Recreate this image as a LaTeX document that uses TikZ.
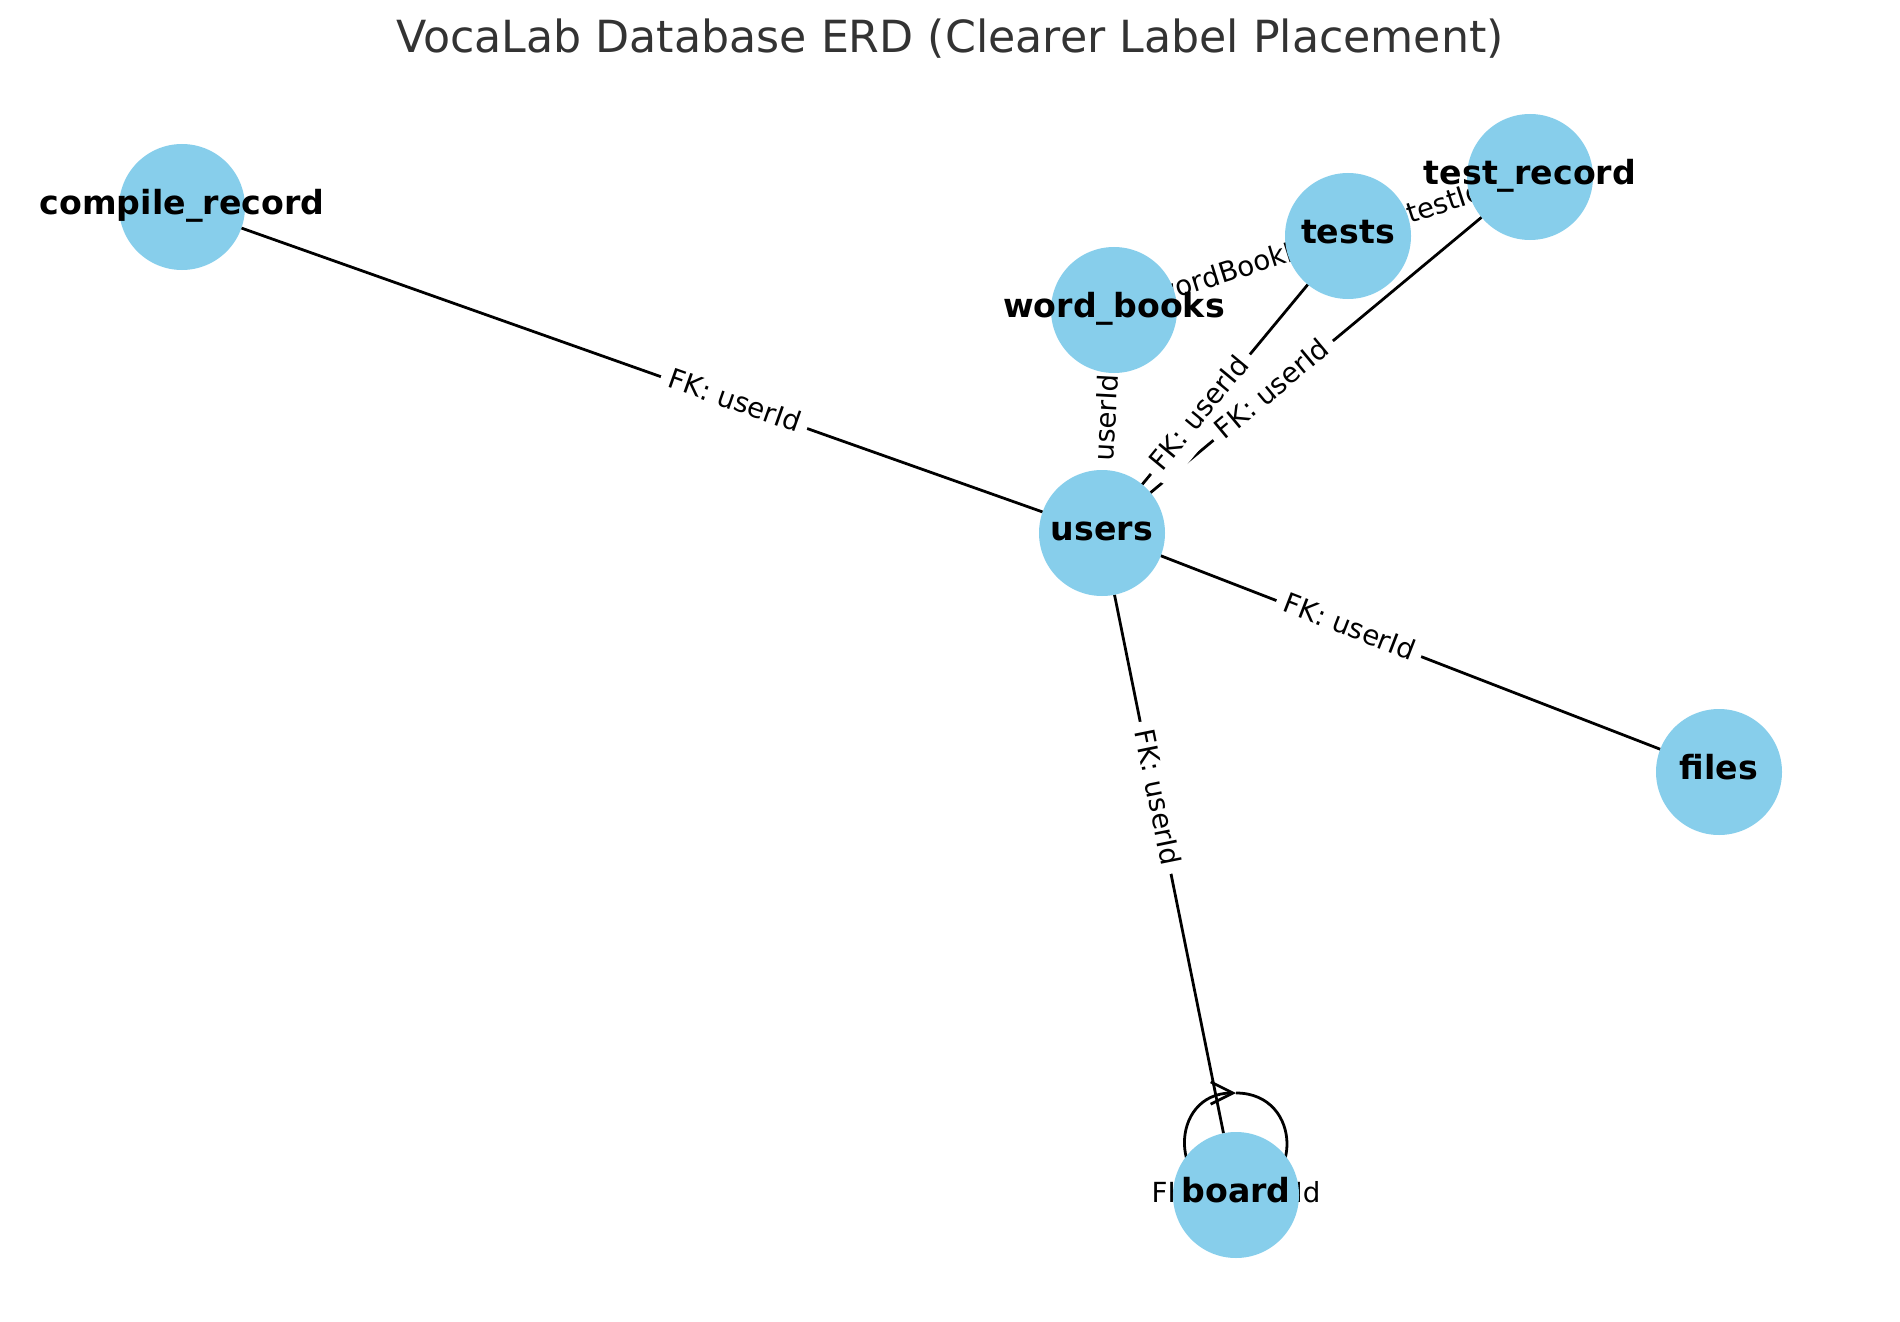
\documentclass[tikz,border=0pt]{standalone}
\usepackage{fontspec}
\setmainfont{DejaVu Sans}
\usetikzlibrary{calc,arrows.meta}
\pgfdeclarelayer{edgelayer}
\pgfdeclarelayer{labellayer}
\pgfsetlayers{edgelayer,labellayer,main}
\definecolor{skyb}{HTML}{87CEEB}
\definecolor{titlegray}{HTML}{333333}
\begin{document}
\begin{tikzpicture}[x=0.36bp,y=-0.36bp,
  ent/.style={circle,fill=skyb,minimum size=45.36bp,inner sep=0pt,outer sep=0pt},
  entname/.style={font=\bfseries\fontsize{12}{14}\selectfont,text height=0.76em,text depth=0.21em,inner sep=0pt,outer sep=0pt},
  conn/.style={line width=1bp,black},
  elabelbase/.style={fill=white,rounded corners=3bp,inner sep=3bp,font=\fontsize{10}{12}\selectfont,text height=0.76em,text depth=0.21em},
  elabel/.style={elabelbase,sloped,pos=0.6}
]
\useasboundingbox (0,0) rectangle (1900,1322);
\node[font=\fontsize{16}{19}\selectfont,text=titlegray,anchor=base] (title) at (950,53) {VocaLab Database ERD (Clearer Label Placement)};

% entities
\node[ent,label={[entname,name=cr-name]center:compile\_record}] (cr) at (182,207) {};
\node[ent,label={[entname,name=users-name]center:users}] (users) at (1102,533) {};
\node[ent,label={[entname,name=wb-name]center:word\_books}] (wb) at (1114,310) {};
\node[ent,label={[entname,name=tests-name]center:tests}] (tests) at (1348,236) {};
\node[ent,label={[entname,name=tr-name]center:test\_record}] (tr) at (1530,177) {};
\node[ent,label={[entname,name=files-name]center:files}] (files) at (1719,772) {};
\node[ent,label={[entname,name=board-name]center:board}] (board) at (1236,1195) {};

\begin{pgfonlayer}{edgelayer}
\draw[conn] (cr) -- (users);
\draw[conn] (files) -- (users);
\draw[conn] (board) -- (users);
\draw[conn] (wb) -- (users);
\draw[conn] (tests) -- (users);
\draw[conn] (tr) -- (users);
\draw[conn] (tests) -- (wb);
\draw[conn] (tr) -- (tests);
\draw[conn,-{Straight Barb[length=8bp,width=8bp]}]
  ($(board.center)+(0,-102)$) .. controls ($(board.center)+(68,-102)$) and ($(board.center)+(68,0)$) .. (board.center)
  .. controls ($(board.center)+(-68,0)$) and ($(board.center)+(-68,-102)$) .. ($(board.center)+(0,-102)$);
\end{pgfonlayer}

\begin{pgfonlayer}{labellayer}
\path (cr.center) -- node[elabel] (l1) {FK: userId} (users.center);
\path (files.center) -- node[elabel] (l2) {FK: userId} (users.center);
\path (board.center) -- node[elabel] (l3) {FK: userId} (users.center);
\path (wb.center) -- node[elabel] (l4) {FK: userId} (users.center);
\path (tests.center) -- node[elabel] (l5) {FK: userId} (users.center);
\path (tr.center) -- node[elabel] (l6) {FK: userId} (users.center);
\path (tests.center) -- node[elabel] (l7) {FK: wordBookId} (wb.center);
\path (tr.center) -- node[elabel] (l8) {FK: testId} (tests.center);
\node[elabelbase] (l9) at (board.center) {FK: parentId};
\end{pgfonlayer}
\end{tikzpicture}
\end{document}
